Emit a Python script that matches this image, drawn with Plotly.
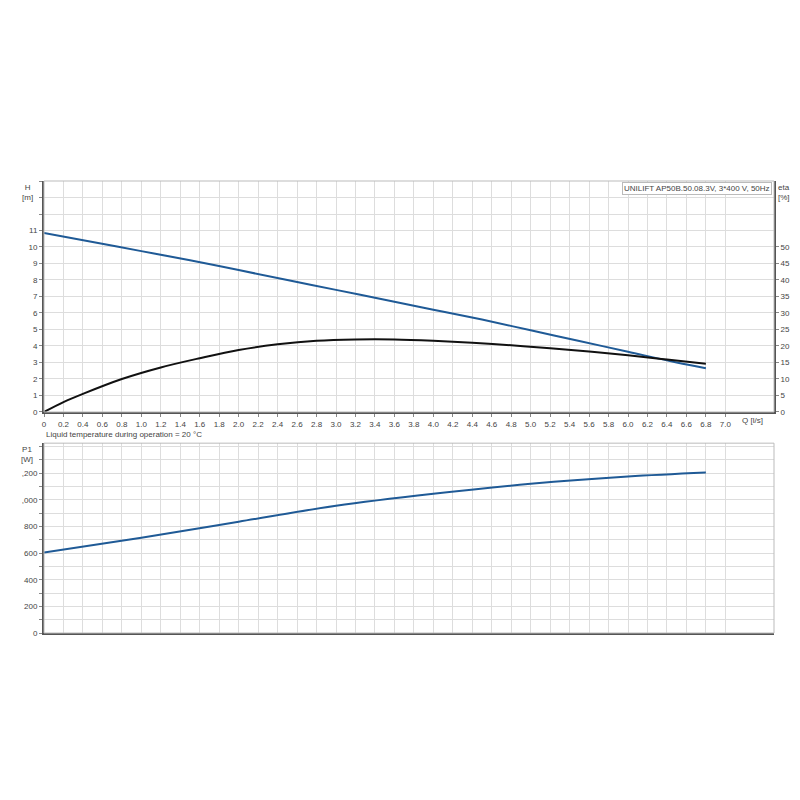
import plotly.graph_objects as go

q_h = [0, 0.5, 1.0, 1.5, 2.0, 2.5, 3.0, 3.5, 4.0, 4.5, 5.0, 5.5, 6.0, 6.5, 6.8]
h = [10.85, 10.3, 9.75, 9.2, 8.6, 8.0, 7.4, 6.8, 6.2, 5.6, 4.95, 4.3, 3.65, 3.0, 2.65]
q_eta = [0, 0.2, 0.4, 0.8, 1.2, 1.6, 2.0, 2.4, 2.8, 3.2, 3.6, 4.0, 4.4, 4.8, 5.2, 5.6, 6.0, 6.4, 6.8]
eta = [0, 3.0, 5.5, 10, 13.5, 16.3, 18.8, 20.5, 21.6, 22.0, 22.0, 21.6, 21.0, 20.2, 19.3, 18.3, 17.2, 15.9, 14.6]
q_p = [0, 1, 2, 3, 4, 5, 6, 6.8]
p1 = [605, 715, 835, 955, 1045, 1120, 1175, 1205]

xticks = [round(i * 0.2, 1) for i in range(36)]
xlabels = [(f"{v:.1f}" if v > 0 else "0") if v <= 7.0 else "" for v in xticks]

fig = go.Figure()
fig.add_trace(go.Scatter(x=q_h, y=h, mode="lines", line=dict(color="#1f5a96", width=2, shape="spline"), xaxis="x", yaxis="y"))
fig.add_trace(go.Scatter(x=q_eta, y=eta, mode="lines", line=dict(color="#111111", width=2, shape="spline"), xaxis="x", yaxis="y2"))
fig.add_trace(go.Scatter(x=q_p, y=p1, mode="lines", line=dict(color="#1f5a96", width=2, shape="spline"), xaxis="x2", yaxis="y3"))

grid = "#dddddd"
tf = dict(size=8, color="#444444")
common = dict(automargin=False, zeroline=False)
fig.update_layout(
    width=800, height=800, showlegend=False, plot_bgcolor="white", paper_bgcolor="white",
    margin=dict(l=36, r=34, t=173, b=175, autoexpand=False),
    font=dict(family="Liberation Sans, Arial", size=8, color="#444"),
    xaxis=dict(domain=[0, 1], anchor="y", range=[0, 7.5], tickvals=xticks, ticktext=xlabels,
               showgrid=True, gridcolor=grid, tickfont=tf, ticks="outside", ticklen=3, tickcolor="#888",
               showline=True, linecolor="#555", linewidth=2, **common),
    yaxis=dict(domain=[0.489, 1], anchor="x", range=[0, 14], tickvals=list(range(0, 15)),
               ticktext=[str(i) if i <= 11 else "" for i in range(15)], showgrid=True, gridcolor=grid,
               tickfont=tf, ticks="outside", ticklen=3, tickcolor="#888", showline=True, linecolor="#555",
               linewidth=2, **common),
    yaxis2=dict(overlaying="y", side="right", anchor="x", range=[0, 70], tickvals=list(range(0, 55, 5)),
                showgrid=False, tickfont=tf, ticks="outside", ticklen=3, tickcolor="#888", showline=True,
                linecolor="#555", linewidth=2, **common),
    xaxis2=dict(domain=[0, 1], anchor="y3", range=[0, 7.5], tickvals=xticks, showticklabels=False,
                showgrid=True, gridcolor=grid, showline=True, linecolor="#555", linewidth=2, **common),
    yaxis3=dict(domain=[0, 0.42], anchor="x2", range=[0, 1425], tickvals=list(range(0, 1500, 100)),
                ticktext=[{0: "0", 200: "200", 400: "400", 600: "600", 800: "800", 1000: ",000", 1200: ",200"}.get(v, "")
                          for v in range(0, 1500, 100)],
                showgrid=True, gridcolor=grid, tickfont=tf, ticks="outside", ticklen=3, tickcolor="#888",
                showline=True, linecolor="#555", linewidth=2, **common),
)
fig.add_shape(type="rect", xref="paper", yref="paper", x0=0, x1=1, y0=0, y1=0.42, line=dict(color="#bbb", width=1))
fig.add_shape(type="rect", xref="paper", yref="paper", x0=0, x1=1, y0=0.489, y1=1, line=dict(color="#bbb", width=1))
ann = [
    dict(x=-0.012, y=1.0, text="H<br>[m]", xanchor="right", yanchor="top", align="center"),
    dict(x=1.003, y=1.0, text="eta<br>[%]", xanchor="left", yanchor="top", align="left"),
    dict(x=0.997, y=0.998, text="UNILIFT AP50B.50.08.3V, 3*400 V, 50Hz", xanchor="right", yanchor="top",
         bgcolor="white", bordercolor="#bbb", borderwidth=1, font=dict(size=8)),
    dict(x=0.97, y=0.484, text="Q [l/s]", xanchor="center", yanchor="top"),
    dict(x=0.0, y=0.424, text="Liquid temperature during operation = 20 °C", xanchor="left", yanchor="bottom"),
    dict(x=-0.012, y=0.42, text="P1<br>[W]", xanchor="right", yanchor="top", align="center"),
]
for a in ann:
    fig.add_annotation(xref="paper", yref="paper", showarrow=False, **a)
fig.write_html("out.html")
